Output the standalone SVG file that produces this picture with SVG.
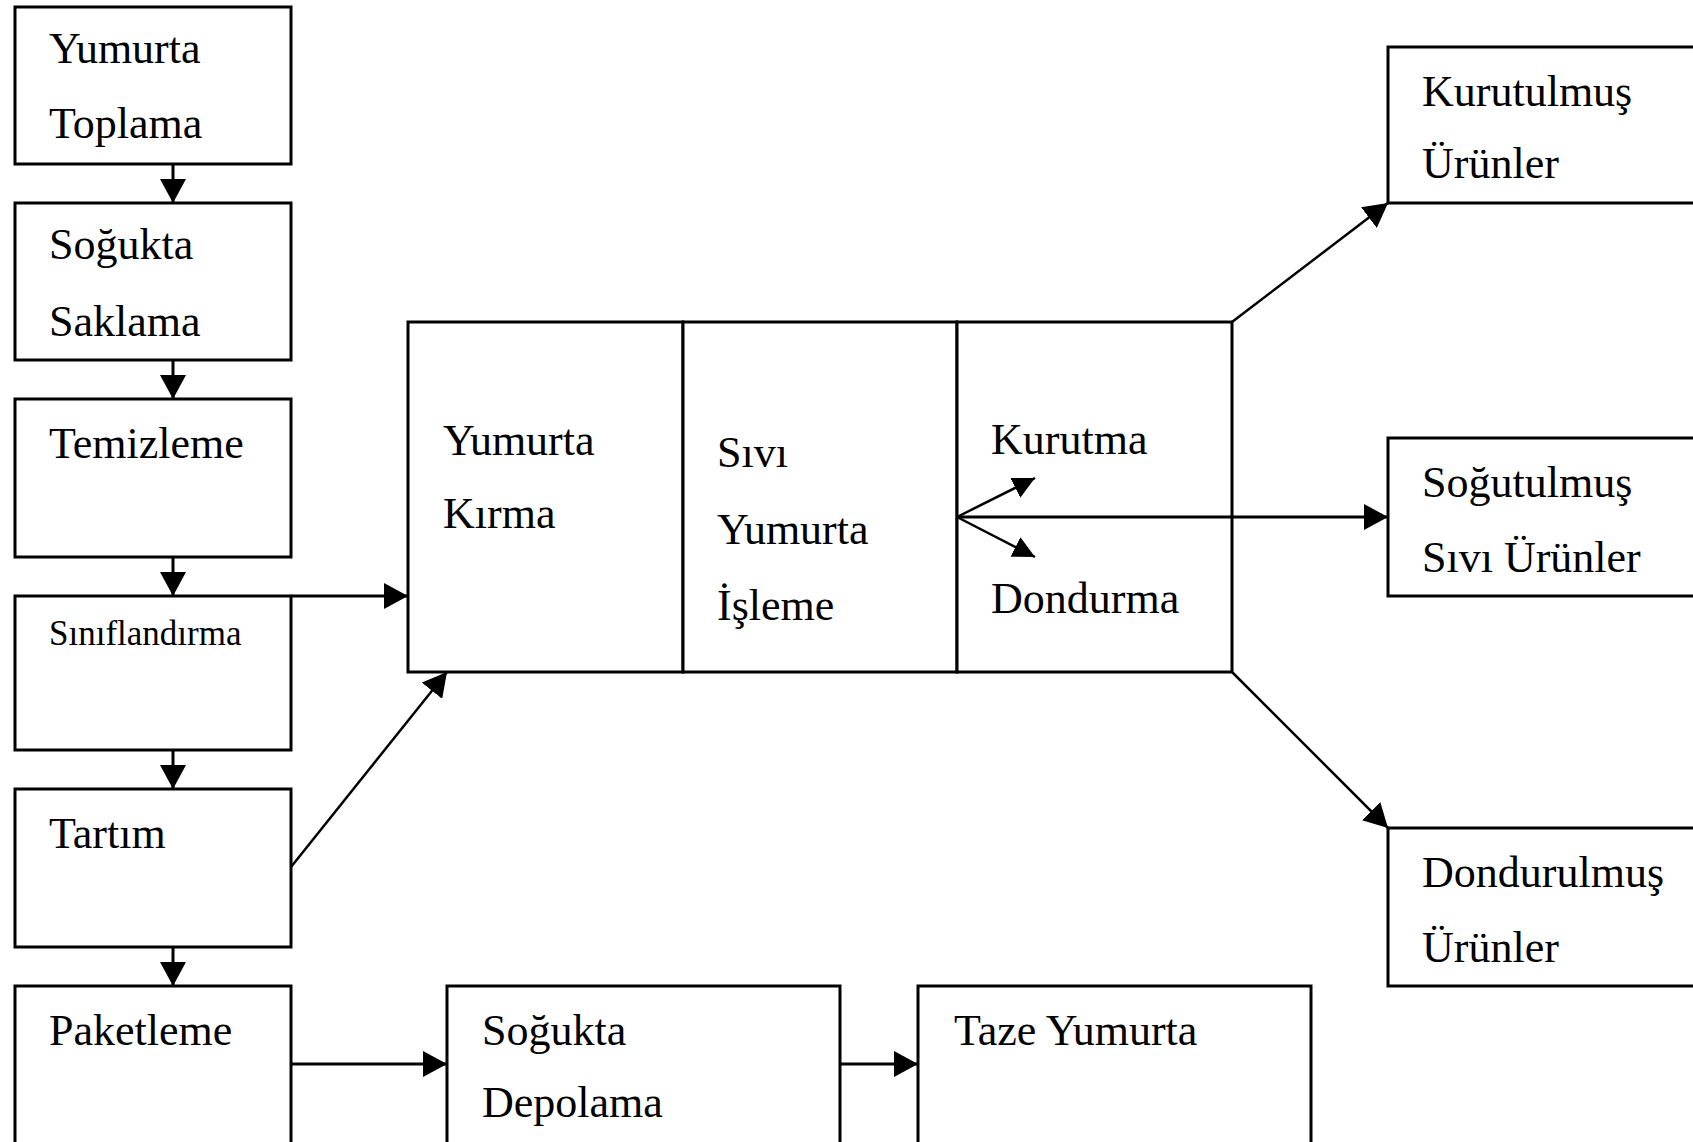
<svg xmlns="http://www.w3.org/2000/svg" width="1693" height="1142" viewBox="0 0 1693 1142">
  <style>
    .box { fill: #fff; stroke: #000; stroke-width: 3; }
    .div { stroke: #000; stroke-width: 3; }
    .lbl { font-family: "Liberation Serif", "Times New Roman", serif; font-size: 44px; fill: #000; }
    .sm { font-size: 35px; }
    .conn { stroke: #000; stroke-width: 3; fill: none; }
    .thin { stroke-width: 2.5; }
  </style>
  <defs>
    <marker id="arrow" markerUnits="userSpaceOnUse" markerWidth="24" markerHeight="26" refX="24" refY="13" orient="auto">
      <path d="M0,0 L24,13 L0,26 z" fill="#000"/>
    </marker>
    <marker id="arrow-s" markerUnits="userSpaceOnUse" markerWidth="22" markerHeight="22" refX="22" refY="11" orient="auto">
      <path d="M0,0 L22,11 L0,22 z" fill="#000"/>
    </marker>
  </defs>

  <rect width="1693" height="1142" fill="#fff"/>

  <!-- left column: collection to packing -->
  <g id="toplama">
    <rect class="box" x="15" y="7" width="276" height="157"/>
    <text class="lbl" x="49" y="63">Yumurta</text>
    <text class="lbl" x="49" y="138">Toplama</text>
  </g>
  <g id="saklama">
    <rect class="box" x="15" y="203" width="276" height="157"/>
    <text class="lbl" x="49" y="259">Soğukta</text>
    <text class="lbl" x="49" y="336">Saklama</text>
  </g>
  <g id="temizleme">
    <rect class="box" x="15" y="399" width="276" height="158"/>
    <text class="lbl" x="49" y="458">Temizleme</text>
  </g>
  <g id="siniflandirma">
    <rect class="box" x="15" y="596" width="276" height="154"/>
    <text class="lbl sm" x="49" y="645">Sınıflandırma</text>
  </g>
  <g id="tartim">
    <rect class="box" x="15" y="789" width="276" height="158"/>
    <text class="lbl" x="49" y="848">Tartım</text>
  </g>
  <g id="paketleme">
    <rect class="box" x="15" y="986" width="276" height="160"/>
    <text class="lbl" x="49" y="1045">Paketleme</text>
  </g>

  <!-- processing block: three cells -->
  <g id="kirma">
    <rect class="box" x="408" y="322" width="275" height="350"/>
    <text class="lbl" x="443" y="455">Yumurta</text>
    <text class="lbl" x="443" y="528">Kırma</text>
  </g>
  <g id="sivi-isleme">
    <rect class="box" x="683" y="322" width="274" height="350"/>
    <text class="lbl" x="717" y="467">Sıvı</text>
    <text class="lbl" x="717" y="544">Yumurta</text>
    <text class="lbl" x="717" y="620">İşleme</text>
  </g>
  <g id="kurutma-dondurma">
    <rect class="box" x="957" y="322" width="275" height="350"/>
    <text class="lbl" x="991" y="454">Kurutma</text>
    <text class="lbl" x="991" y="613">Dondurma</text>
  </g>

  <!-- right column: products -->
  <g id="kurutulmus">
    <rect class="box" x="1388" y="47" width="320" height="156"/>
    <text class="lbl" x="1422" y="106">Kurutulmuş</text>
    <text class="lbl" x="1422" y="178">Ürünler</text>
  </g>
  <g id="sogutulmus">
    <rect class="box" x="1388" y="438" width="320" height="158"/>
    <text class="lbl" x="1422" y="497">Soğutulmuş</text>
    <text class="lbl" x="1422" y="572">Sıvı Ürünler</text>
  </g>
  <g id="dondurulmus">
    <rect class="box" x="1388" y="828" width="320" height="158"/>
    <text class="lbl" x="1422" y="887">Dondurulmuş</text>
    <text class="lbl" x="1422" y="962">Ürünler</text>
  </g>

  <!-- bottom row: storage and fresh eggs -->
  <g id="depolama">
    <rect class="box" x="447" y="986" width="393" height="160"/>
    <text class="lbl" x="482" y="1045">Soğukta</text>
    <text class="lbl" x="482" y="1117">Depolama</text>
  </g>
  <g id="taze">
    <rect class="box" x="918" y="986" width="393" height="160"/>
    <text class="lbl" x="954" y="1045">Taze Yumurta</text>
  </g>

  <!-- connectors -->
  <g id="connectors">
    <line class="conn" x1="173" y1="164" x2="173" y2="203" marker-end="url(#arrow)"/>
    <line class="conn" x1="173" y1="360" x2="173" y2="399" marker-end="url(#arrow)"/>
    <line class="conn" x1="173" y1="557" x2="173" y2="596" marker-end="url(#arrow)"/>
    <line class="conn" x1="173" y1="750" x2="173" y2="789" marker-end="url(#arrow)"/>
    <line class="conn" x1="173" y1="947" x2="173" y2="986" marker-end="url(#arrow)"/>
    <line class="conn" x1="291" y1="596" x2="408" y2="596" marker-end="url(#arrow)"/>
    <line class="conn thin" x1="291" y1="867" x2="447" y2="672" marker-end="url(#arrow)"/>
    <line class="conn" x1="291" y1="1064" x2="447" y2="1064" marker-end="url(#arrow)"/>
    <line class="conn" x1="840" y1="1064" x2="918" y2="1064" marker-end="url(#arrow)"/>
    <line class="conn thin" x1="957" y1="517" x2="1035" y2="478" marker-end="url(#arrow-s)"/>
    <line class="conn thin" x1="957" y1="517" x2="1035" y2="557" marker-end="url(#arrow-s)"/>
    <line class="conn" x1="957" y1="517" x2="1388" y2="517" marker-end="url(#arrow)"/>
    <line class="conn thin" x1="1232" y1="322" x2="1388" y2="203" marker-end="url(#arrow)"/>
    <line class="conn thin" x1="1232" y1="672" x2="1388" y2="828" marker-end="url(#arrow)"/>
  </g>
</svg>
